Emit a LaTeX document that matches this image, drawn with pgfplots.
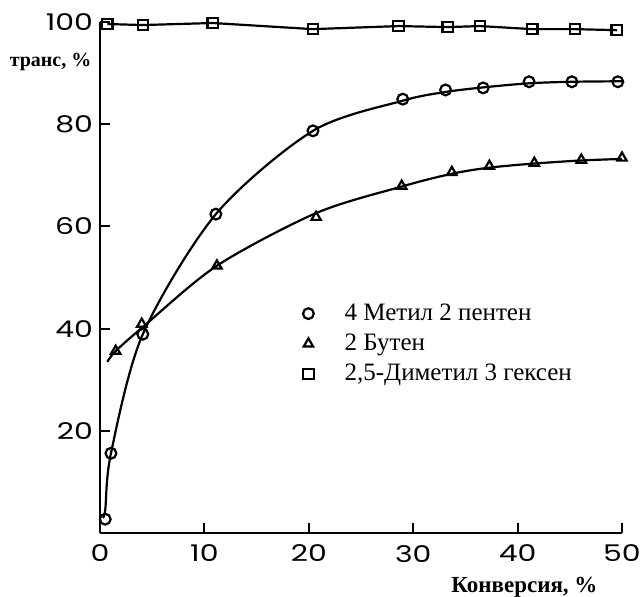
\documentclass[border=0pt]{standalone}
\usepackage{fontspec}
\setmainfont{Liberation Serif}
\newfontfamily\tickfont[FakeStretch=1.3]{Poppins}
\usepackage{pgfplots}
\pgfplotsset{compat=1.18}
\pgfplotsset{
    markleg/.style={legend image code/.code={\draw[##1] plot coordinates {(0.3cm,0cm)}; \path (0cm,0cm) (0.86cm,0cm);}},
}

\begin{document}
\begin{tikzpicture}
\useasboundingbox (-50pt,-32pt) rectangle (270.5pt,266.5pt);
\begin{axis}[
    scale only axis,
    width=261pt, height=255.5pt,
    xmin=0, xmax=50, ymin=0, ymax=100,
    axis lines*=left,
    axis line style={line width=1.3pt},
    tick align=inside,
    major tick length=5pt,
    tick style={line width=1pt, black},
    xtick={0,10,20,30,40,50},
    ytick={20,40,60,80,100},
    ticklabel style={font=\tickfont\fontsize{11.5}{13}\selectfont},
    xticklabel style={yshift=-2.5pt},
    /pgf/number format/assume math mode=true,
    every axis y label/.style={at={(axis description cs:-0.003,0.922)}, anchor=east, font=\bfseries\fontsize{10}{11}\selectfont},
    every axis x label/.style={at={(axis description cs:0.813,-0.106)}, anchor=center, font=\bfseries\fontsize{11.5}{13}\selectfont},
    ylabel={транс, \%},
    xlabel={Конверсия, \%},
    clip=false,
    legend cell align=left,
    legend style={draw=none, fill=none, inner sep=0pt, at={(axis description cs:0.365,0.457)}, anchor=north west,
        font=\fontsize{12.5}{14}\selectfont, row sep=1.3pt},
]
% fitted curves
\addplot[black, line width=1.1pt, smooth, forget plot] coordinates {
    (0.25,3) (0.5,4.5) (1.05,15.6) (4.1,38.9) (11.1,62.4) (20.4,78.7) (29,84.6) (33.1,86.3) (36.7,87.2) (41.1,88.0) (45.2,88.3) (50,88.4)
};
\addplot[black, line width=1.1pt, smooth, forget plot] coordinates {
    (0.7,33.5) (1.5,35.6) (4.1,40.3) (11.2,52.3) (20.7,62.6) (28.9,67.8) (33.7,70.3) (37.3,71.5) (41.6,72.3) (46.1,72.9) (50,73.2)
};
\addplot[black, line width=1.1pt, forget plot] coordinates {
    (0.7,99.6) (4.1,99.4) (10.8,99.8) (20.4,98.6) (28.6,99.2) (33.3,99.0) (36.4,99.2) (41.4,98.6) (45.5,98.6) (49.5,98.4)
};
% data points
\addplot[only marks, markleg, mark=o, mark size=2.7pt, mark options={fill=white, line width=1.1pt}] coordinates {
    (0.5,2.7) (1.05,15.6) (4.1,38.9) (11.1,62.4) (20.4,78.7) (29,84.9) (33.1,86.7) (36.7,87.1) (41.1,88.3) (45.2,88.3) (49.6,88.3)
};
\addlegendentry{4 Метил 2 пентен}
\addplot[only marks, markleg, mark=triangle, mark size=2.7pt, mark options={fill=white, line width=1.1pt}] coordinates {
    (1.5,35.6) (4.0,40.9) (11.2,52.3) (20.7,61.8) (28.9,67.9) (33.7,70.6) (37.3,71.8) (41.6,72.4) (46.1,73.0) (50,73.4)
};
\addlegendentry{2 Бутен}
\addplot[only marks, markleg, mark=square, mark size=2.6pt, mark options={fill=white, line width=1.1pt}] coordinates {
    (0.7,99.6) (4.1,99.4) (10.8,99.8) (20.4,98.6) (28.6,99.2) (33.3,99.0) (36.4,99.2) (41.4,98.6) (45.5,98.6) (49.5,98.4)
};
\addlegendentry{2,5-Диметил 3 гексен}
\end{axis}
\end{tikzpicture}
\end{document}
